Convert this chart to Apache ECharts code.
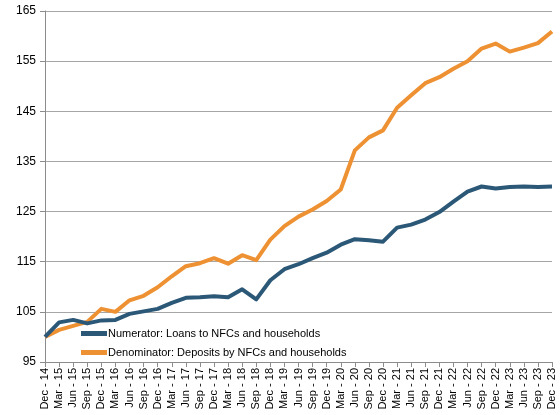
<!DOCTYPE html>
<html>
<head>
<meta charset="utf-8">
<script src="https://cdn.jsdelivr.net/npm/echarts@6/dist/echarts.min.js"></script>
<style>
  html, body { margin: 0; padding: 0; background: #fff; }
  #chart { width: 560px; height: 415px; }
</style>
</head>
<body>
<div id="chart"></div>
<script>
// Quarterly index, Dec-14 = 100
const quarters = [
  'Dec - 14', 'Mar - 15', 'Jun - 15', 'Sep - 15', 'Dec - 15', 'Mar - 16', 'Jun - 16', 'Sep - 16',
  'Dec - 16', 'Mar - 17', 'Jun - 17', 'Sep - 17', 'Dec - 17', 'Mar - 18', 'Jun - 18', 'Sep - 18',
  'Dec - 18', 'Mar - 19', 'Jun - 19', 'Sep - 19', 'Dec - 19', 'Mar - 20', 'Jun - 20', 'Sep - 20',
  'Dec - 20', 'Mar - 21', 'Jun - 21', 'Sep - 21', 'Dec - 21', 'Mar - 22', 'Jun - 22', 'Sep - 22',
  'Dec - 22', 'Mar - 23', 'Jun - 23', 'Sep - 23', 'Dec - 23'
];

const loansName = 'Numerator: Loans to NFCs and households';
const loans = [
  100.0, 102.9, 103.4, 102.7, 103.3, 103.4, 104.6, 105.1,
  105.6, 106.8, 107.8, 107.9, 108.1, 107.9, 109.5, 107.5,
  111.3, 113.5, 114.5, 115.7, 116.8, 118.4, 119.5, 119.3,
  119.0, 121.8, 122.4, 123.4, 124.9, 127.0, 129.0, 130.0,
  129.6, 129.9, 130.0, 129.9, 130.0
];

const depositsName = 'Denominator: Deposits by NFCs and households';
const deposits = [
  100.0, 101.4, 102.2, 103.0, 105.6, 105.0, 107.3, 108.2,
  109.9, 112.1, 114.1, 114.7, 115.7, 114.6, 116.3, 115.3,
  119.4, 122.1, 124.0, 125.4, 127.1, 129.4, 137.2, 139.8,
  141.2, 145.7, 148.2, 150.6, 151.8, 153.5, 155.0, 157.5,
  158.5, 156.9, 157.7, 158.6, 160.9
];

const yMin = 95, yMax = 165, yStep = 10;

const FONT = 'Liberation Sans';
const BLUE = '#2C5878';
const ORANGE = '#EE9133';

const chart = echarts.init(document.getElementById('chart'), null, { renderer: 'canvas' });

chart.setOption({
  animation: false,
  backgroundColor: '#ffffff',
  textStyle: { fontFamily: FONT },
  grid: { left: 45, right: 8, top: 11, bottom: 53, containLabel: false },
  legend: {
    orient: 'vertical',
    left: 76,
    top: 323,
    itemGap: 8,
    itemWidth: 26,
    itemHeight: 5,
    icon: 'rect',
    textStyle: { fontFamily: FONT, fontSize: 11, color: '#000', padding: [0, 0, 0, -4] },
    data: [loansName, depositsName]
  },
  xAxis: {
    type: 'category',
    data: quarters,
    boundaryGap: false,
    axisLine: { show: true, lineStyle: { color: '#8c8c8c', width: 1 } },
    axisTick: { show: true, alignWithLabel: true, length: 5, interval: 0, lineStyle: { color: '#8c8c8c' } },
    axisLabel: {
      interval: 0,
      rotate: 90,
      margin: 6,
      fontFamily: FONT,
      fontSize: 11,
      color: '#000'
    },
    splitLine: { show: false }
  },
  yAxis: {
    type: 'value',
    min: yMin,
    max: yMax,
    interval: yStep,
    axisLine: { show: true, lineStyle: { color: '#8c8c8c', width: 1 } },
    axisTick: { show: true, length: 5, lineStyle: { color: '#8c8c8c' } },
    axisLabel: { fontFamily: FONT, fontSize: 12, color: '#000', margin: 9 },
    splitLine: { show: true, lineStyle: { color: '#a6a6a6', width: 1 } }
  },
  series: [
    {
      name: loansName,
      type: 'line',
      data: loans,
      symbol: 'none',
      z: 3,
      lineStyle: { color: BLUE, width: 4, join: 'round' },
      itemStyle: { color: BLUE }
    },
    {
      name: depositsName,
      type: 'line',
      data: deposits,
      symbol: 'none',
      z: 2,
      lineStyle: { color: ORANGE, width: 4, join: 'round' },
      itemStyle: { color: ORANGE }
    }
  ]
});
</script>
</body>
</html>
